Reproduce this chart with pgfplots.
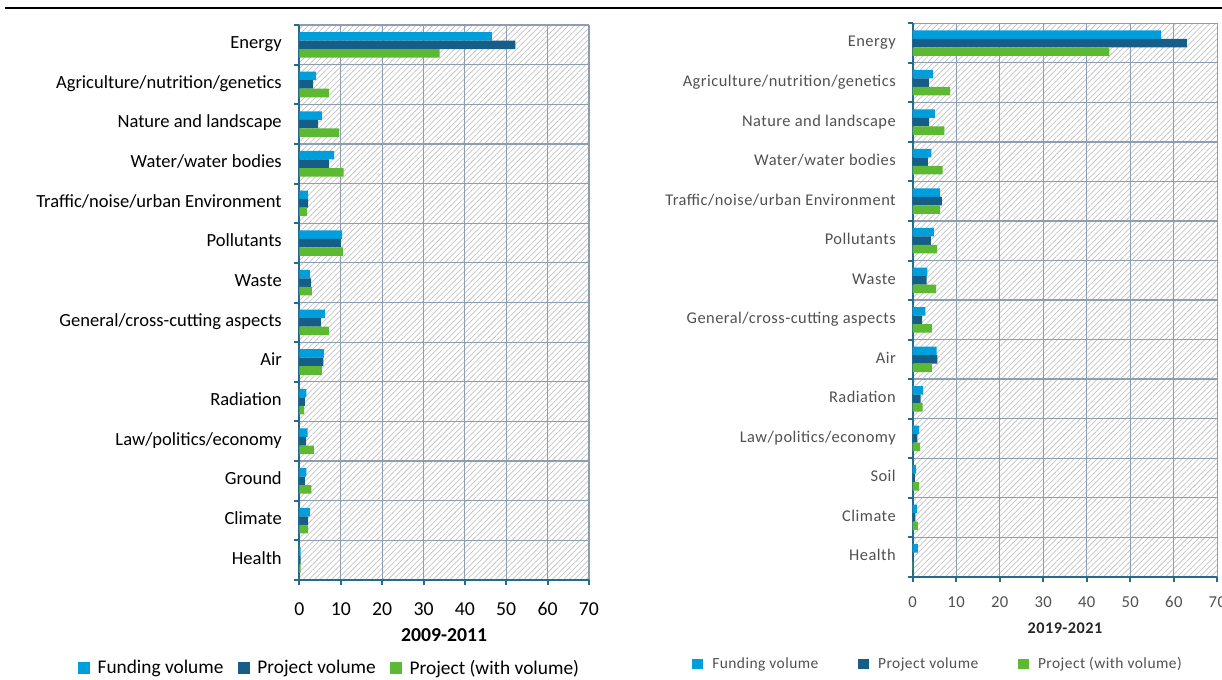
\documentclass[border=0pt]{standalone}
\usepackage{fontspec}
\setmainfont{Carlito}
\newfontfamily\spacedfont[LetterSpace=3]{Carlito}
\usepackage{pgfplots}
\usepackage{pgfplotstable}
\pgfplotsset{compat=1.18}
\usetikzlibrary{patterns.meta}

\definecolor{cFund}{RGB}{0,158,219}
\definecolor{cProj}{RGB}{22,94,135}
\definecolor{cPwv}{RGB}{94,185,50}
\definecolor{cAxis}{RGB}{36,108,142}
\definecolor{cGrid}{RGB}{140,158,175}
\definecolor{cHatch}{RGB}{196,196,196}
\definecolor{cTextR}{RGB}{80,80,80}

% shares (%) per topic, 2009-2011
\pgfplotstableread{
fund proj pwv
46.5 52.2 33.9
4.0  3.3  7.1
5.4  4.5  9.6
8.4  7.1  10.7
2.1  2.1  1.8
10.3 10.0 10.5
2.5  2.8  3.0
6.2  5.2  7.1
5.9  5.8  5.4
1.7  1.3  1.1
2.0  1.6  3.5
1.7  1.3  2.9
2.5  2.1  2.1
0.3  0.3  0.3
}\dataA

% shares (%) per topic, 2019-2021
\pgfplotstableread{
fund proj pwv
57.1 63.0 45.2
4.7  3.7  8.6
5.1  3.8  7.3
4.3  3.5  6.9
6.3  6.7  6.3
4.9  4.2  5.6
3.4  3.2  5.4
2.9  2.2  4.4
5.5  5.7  4.4
2.4  1.8  2.3
1.5  1.1  1.7
0.8  0.5  1.4
1.0  0.6  1.2
1.2  0.2  0.1
}\dataB

\pgfplotsset{
  panel/.style={
    scale only axis,
    y dir=reverse,
    xmin=0, xmax=70, ymin=-0.5, ymax=13.5,
    xtick={0,10,...,70},
    ytick={-0.5,0.5,...,13.5}, yticklabels={},
    extra y ticks={0,1,...,13},
    extra y tick style={grid=none, major tick length=0pt, tick style={draw=none}},
    xmajorgrids, ymajorgrids,
    grid style={draw=cGrid, line width=0.9pt},
    axis x line*=bottom, axis y line*=left,
    axis line style={draw=cAxis, line width=1.5pt, -},
    tick style={draw=cAxis, line width=1.5pt},
    tick align=outside, major tick length=3.75pt,
    /pgf/number format/assume math mode=true,
    axis background/.style={pattern={Lines[angle=45,distance=3pt,line width=0.55pt]}, pattern color=cHatch},
    xticklabel style={anchor=mid, inner sep=0pt},
    yticklabel style={anchor=mid east, inner sep=0pt},
    xlabel style={at={(axis description cs:0.5,0)}, anchor=mid, inner sep=0pt},
    legend columns=3,
    legend cell align=left,
    legend style={draw=none, fill=none, inner sep=0pt, anchor=west},
  },
  barF/.style={xbar, fill=cFund, draw=none, bar width=0.215, bar shift=-0.215},
  barP/.style={xbar, fill=cProj, draw=none, bar width=0.215, bar shift=0},
  barW/.style={xbar, fill=cPwv,  draw=none, bar width=0.215, bar shift=0.215},
  sqL/.style={legend image code/.code={\fill[##1] (0pt,-4.5pt) rectangle (9pt,4.5pt);}},
  sqR/.style={legend image code/.code={\fill[##1] (0pt,-4pt) rectangle (8pt,4pt);}},
}

\begin{document}
\begin{tikzpicture}
\draw[line width=1.9pt] (3.75pt,503.25pt) -- (916.5pt,503.25pt);

\begin{axis}[panel,
  at={(224.6pt,490.5pt)}, anchor=north west,
  width=217.1pt, height=416.25pt,
  extra y tick labels={Energy,Agriculture/nutrition/genetics,Nature and landscape,Water/water bodies,Traffic/noise/urban Environment,Pollutants,Waste,General/cross-cutting aspects,Air,Radiation,Law/politics/economy,Ground,Climate,Health},
  yticklabel style={font=\fontsize{13.9}{16}\selectfont, xshift=-13.1pt, yshift=-0.5pt},
  xticklabel style={font=\fontsize{14.8}{17}\selectfont, yshift=-20.3pt},
  xlabel={\bfseries 2009-2011},
  xlabel style={font=\fontsize{14.8}{17}\selectfont, yshift=-44pt},
  legend style={at={(axis description cs:-0.765,-0.1586)}, font=\fontsize{14.5}{17}\selectfont,
    /tikz/every odd column/.append style={column sep=3.5pt},
    /tikz/every even column/.append style={column sep=9pt}},
]
\addplot[barF, sqL] table[x=fund, y expr=\coordindex] {\dataA};
\addplot[barP, sqL] table[x=proj, y expr=\coordindex] {\dataA};
\addplot[barW, sqL] table[x=pwv,  y expr=\coordindex] {\dataA};
\legend{Funding volume, Project volume, Project (with volume)}
\end{axis}

\begin{axis}[panel,
  at={(684.5pt,491.75pt)}, anchor=north west,
  width=228.45pt, height=415.05pt,
  extra y tick labels={Energy,Agriculture/nutrition/genetics,Nature and landscape,Water/water bodies,Traffic/noise/urban Environment,Pollutants,Waste,General/cross-cutting aspects,Air,Radiation,Law/politics/economy,Soil,Climate,Health},
  yticklabel style={font=\spacedfont\fontsize{12.3}{14}\selectfont, text=cTextR, xshift=-12.5pt, yshift=-0.5pt},
  xticklabel style={font=\spacedfont\fontsize{12.5}{14}\selectfont, text=cTextR, yshift=-16.8pt},
  xlabel={\bfseries 2019-2021},
  xlabel style={font=\spacedfont\fontsize{12.2}{14}\selectfont, text=black!85, yshift=-40pt},
  legend style={at={(axis description cs:-0.7245,-0.1578)}, font=\spacedfont\fontsize{11.6}{13}\selectfont, text=cTextR,
    /tikz/every odd column/.append style={column sep=5pt},
    /tikz/every even column/.append style={column sep=27.75pt}},
]
\addplot[barF, sqR] table[x=fund, y expr=\coordindex] {\dataB};
\addplot[barP, sqR] table[x=proj, y expr=\coordindex] {\dataB};
\addplot[barW, sqR] table[x=pwv,  y expr=\coordindex] {\dataB};
\legend{Funding volume, Project volume, Project (with volume)}
\end{axis}

\pgfresetboundingbox
\path[use as bounding box] (0pt,0pt) rectangle (916.5pt,509.25pt);
\end{tikzpicture}
\end{document}
